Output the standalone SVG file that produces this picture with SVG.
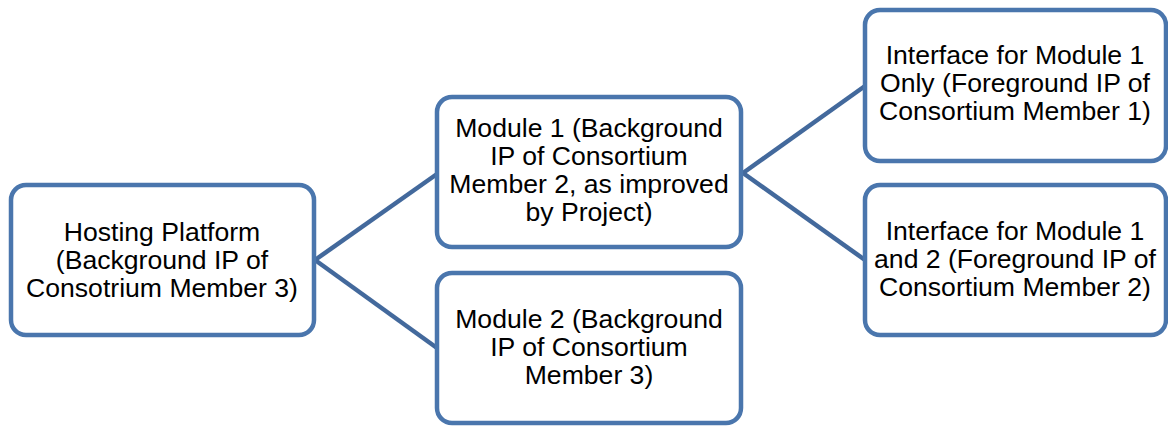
<svg xmlns="http://www.w3.org/2000/svg" width="1168" height="427" viewBox="0 0 1168 427">
<style>
.box{fill:#ffffff;stroke:#4a76ad;stroke-width:4.5}
.conn{stroke:#43699c;stroke-width:4.5;fill:none}
text{font-family:"Liberation Sans",Arial,sans-serif;font-size:26.6px;fill:#000;text-anchor:middle}
</style>
<rect width="1168" height="427" fill="#fff"/>
<g id="connectors">
<line class="conn" x1="315" y1="260" x2="437" y2="174"/>
<line class="conn" x1="315" y1="260" x2="437" y2="348"/>
<line class="conn" x1="743" y1="173" x2="865" y2="86"/>
<line class="conn" x1="743" y1="173" x2="865" y2="260"/>
</g>
<g id="hosting">
<rect class="box" x="11" y="185" width="303" height="150" rx="15"/>
<text x="162" y="241">Hosting Platform</text>
<text x="162" y="269">(Background IP of</text>
<text x="162" y="297">Consotrium Member 3)</text>
</g>
<g id="module1">
<rect class="box" x="437" y="97" width="304" height="150" rx="15"/>
<text x="589" y="137">Module 1 (Background</text>
<text x="589" y="165">IP of Consortium</text>
<text x="589" y="193">Member 2, as improved</text>
<text x="589" y="221">by Project)</text>
</g>
<g id="module2">
<rect class="box" x="437" y="273" width="304" height="150" rx="15"/>
<text x="589" y="328">Module 2 (Background</text>
<text x="589" y="356">IP of Consortium</text>
<text x="589" y="384">Member 3)</text>
</g>
<g id="interface1">
<rect class="box" x="865" y="10" width="301" height="151" rx="15"/>
<text x="1015" y="64">Interface for Module 1</text>
<text x="1015" y="92">Only (Foreground IP of</text>
<text x="1015" y="120">Consortium Member 1)</text>
</g>
<g id="interface2">
<rect class="box" x="865" y="185" width="301" height="150" rx="15"/>
<text x="1015" y="240">Interface for Module 1</text>
<text x="1015" y="268">and 2 (Foreground IP of</text>
<text x="1015" y="296">Consortium Member 2)</text>
</g>
</svg>
